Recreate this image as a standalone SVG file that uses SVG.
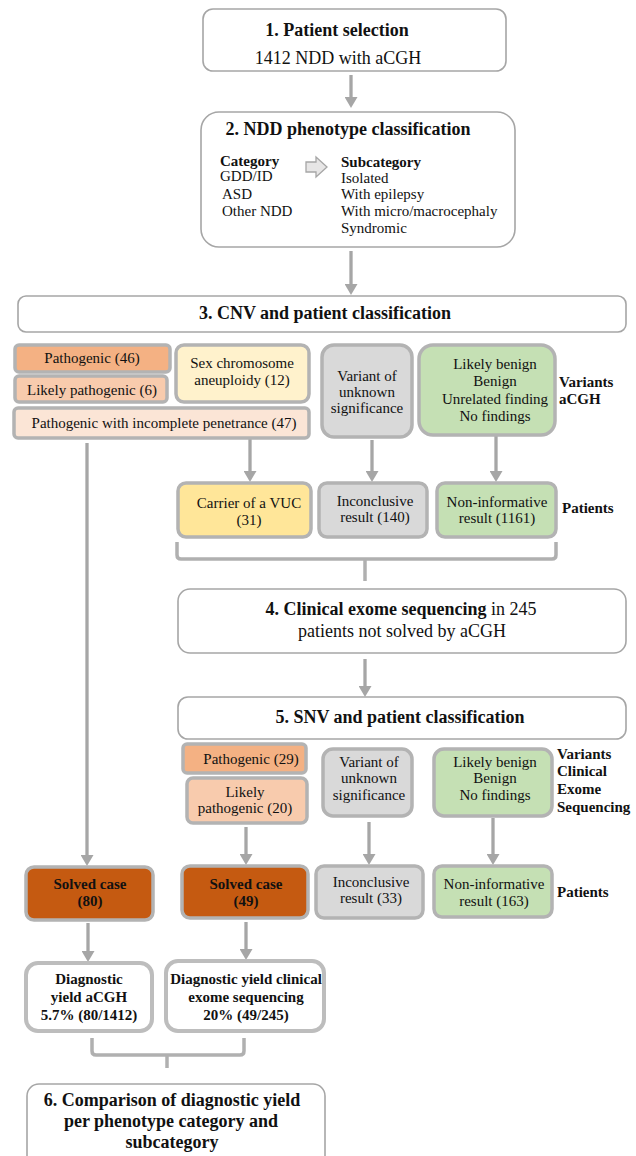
<svg xmlns="http://www.w3.org/2000/svg" width="636" height="1156" viewBox="0 0 636 1156">
<style>
text{font-family:"Liberation Serif","Times New Roman",serif;fill:#111}
.t{font-size:18px;font-weight:bold;text-anchor:middle}
.s{font-size:18px;text-anchor:middle}
.n{font-size:15px;text-anchor:middle}
.nb{font-size:15px;font-weight:bold;text-anchor:middle}
.l{font-size:15px}
.lb{font-size:15px;font-weight:bold}
.hdr{fill:#fff;stroke:#a6a6a6;stroke-width:1.6}
.nd{stroke:#b3b3b3;stroke-width:3.5}
.con{stroke:#a6a6a6;stroke-width:3.3;fill:none}
.br{stroke:#b0b0b0;stroke-width:3.5;fill:none;stroke-linejoin:round}
</style>
<defs>
<marker id="ah" viewBox="0 0 11 13" refX="0" refY="6.5" markerWidth="11" markerHeight="13" markerUnits="userSpaceOnUse" orient="auto">
<path d="M0,0 L11,6.5 L0,13 z" fill="#a6a6a6"/>
</marker>
</defs>

<g id="connectors">
<line class="con" x1="351" y1="75" x2="351" y2="97" marker-end="url(#ah)"/>
<line class="con" x1="351" y1="251" x2="351" y2="284" marker-end="url(#ah)"/>
<line class="con" x1="250" y1="438" x2="250" y2="471" marker-end="url(#ah)"/>
<line class="con" x1="372" y1="440" x2="372" y2="471" marker-end="url(#ah)"/>
<line class="con" x1="496" y1="436" x2="496" y2="471" marker-end="url(#ah)"/>
<line class="con" x1="87" y1="443" x2="87" y2="855" marker-end="url(#ah)"/>
<path class="br" d="M177,542 V555 Q177,559 181,559 H552 Q556,559 556,555 V542"/>
<path class="br" d="M365,559 V581"/>
<line class="con" x1="365" y1="659" x2="365" y2="686" marker-end="url(#ah)"/>
<line class="con" x1="246" y1="827" x2="246" y2="854" marker-end="url(#ah)"/>
<line class="con" x1="369" y1="822" x2="369" y2="854" marker-end="url(#ah)"/>
<line class="con" x1="493" y1="818" x2="493" y2="854" marker-end="url(#ah)"/>
<line class="con" x1="88" y1="923" x2="88" y2="951" marker-end="url(#ah)"/>
<line class="con" x1="246" y1="922" x2="246" y2="949" marker-end="url(#ah)"/>
<path class="br" d="M92,1038 V1051 Q92,1055 96,1055 H240 Q244,1055 244,1051 V1038"/>
<path class="br" d="M167,1055 V1068"/>
</g>

<g id="step1">
<rect class="hdr" x="203" y="9" width="303" height="62" rx="10"/>
<text class="t" x="337" y="36">1. Patient selection</text>
<text class="s" x="338" y="64">1412 NDD with aCGH</text>
</g>

<g id="step2">
<rect class="hdr" x="201" y="112" width="314" height="135" rx="18"/>
<text class="t" x="348" y="135">2. NDD phenotype classification</text>
<text class="lb" x="220" y="166">Category</text>
<text class="l" x="220" y="181">GDD/ID</text>
<text class="l" x="222" y="199">ASD</text>
<text class="l" x="222" y="216">Other NDD</text>
<polygon points="306,162 316,162 316,157 327,167 316,177 316,172 306,172" fill="#e7e6e6" stroke="#a6a6a6" stroke-width="1.3"/>
<text class="lb" x="341" y="167">Subcategory</text>
<text class="l" x="341" y="183">Isolated</text>
<text class="l" x="341" y="199">With epilepsy</text>
<text class="l" x="341" y="216">With micro/macrocephaly</text>
<text class="l" x="341" y="233">Syndromic</text>
</g>

<g id="step3">
<rect class="hdr" x="18" y="296" width="608" height="36" rx="8"/>
<text class="t" x="325" y="319">3. CNV and patient classification</text>
</g>

<g id="cnv-pathogenic">
<rect class="nd" x="15" y="345" width="155" height="27" rx="4" fill="#f4b183"/>
<text class="n" x="92" y="363">Pathogenic (46)</text>
</g>
<g id="cnv-likely-pathogenic">
<rect class="nd" x="15" y="376" width="152" height="26" rx="4" fill="#f8cbad"/>
<text class="n" x="92" y="395">Likely pathogenic (6)</text>
</g>
<g id="cnv-sex">
<rect class="nd" x="176" y="345" width="133" height="57" rx="8" fill="#fff2cc"/>
<text class="n" x="242" y="368">Sex chromosome</text>
<text class="n" x="242" y="385">aneuploidy (12)</text>
</g>
<g id="cnv-incomplete">
<rect class="nd" x="14" y="408" width="295" height="30" rx="4" fill="#fbe5d6"/>
<text class="n" x="164" y="428">Pathogenic with incomplete penetrance (47)</text>
</g>
<g id="cnv-vus">
<rect class="nd" x="322" y="345" width="90" height="92" rx="12" fill="#d9d9d9"/>
<text class="n" x="367" y="381">Variant of</text>
<text class="n" x="367" y="397">unknown</text>
<text class="n" x="367" y="413">significance</text>
</g>
<g id="cnv-benign">
<rect class="nd" x="419" y="345" width="136" height="90" rx="14" fill="#c5e0b4"/>
<text class="n" x="495" y="369">Likely benign</text>
<text class="n" x="495" y="386">Benign</text>
<text class="n" x="495" y="404">Unrelated finding</text>
<text class="n" x="495" y="421">No findings</text>
</g>
<g id="label-variants-acgh">
<text class="lb" x="559" y="387">Variants</text>
<text class="lb" x="559" y="404">aCGH</text>
</g>

<g id="pat-carrier">
<rect class="nd" x="178" y="483" width="133" height="54" rx="8" fill="#ffe699"/>
<text class="n" x="249" y="508">Carrier of a VUC</text>
<text class="n" x="249" y="525">(31)</text>
</g>
<g id="pat-inconclusive1">
<rect class="nd" x="319" y="483" width="108" height="54" rx="8" fill="#d9d9d9"/>
<text class="n" x="375" y="506">Inconclusive</text>
<text class="n" x="375" y="522">result (140)</text>
</g>
<g id="pat-noninf1">
<rect class="nd" x="437" y="483" width="119" height="54" rx="8" fill="#c5e0b4"/>
<text class="n" x="497" y="507">Non-informative</text>
<text class="n" x="497" y="523">result (1161)</text>
</g>
<g id="label-patients1">
<text class="lb" x="562" y="513">Patients</text>
</g>

<g id="step4">
<rect class="hdr" x="178" y="589" width="448" height="64" rx="12"/>
<text class="s" x="401" y="615"><tspan font-weight="bold">4. Clinical exome sequencing</tspan> in 245</text>
<text class="s" x="402" y="637">patients not solved by aCGH</text>
</g>

<g id="step5">
<rect class="hdr" x="178" y="697" width="448" height="42" rx="10"/>
<text class="t" x="400" y="723">5. SNV and patient classification</text>
</g>

<g id="snv-pathogenic">
<rect class="nd" x="183" y="744" width="123" height="29" rx="4" fill="#f4b183"/>
<text class="n" x="251" y="764">Pathogenic (29)</text>
</g>
<g id="snv-likely-pathogenic">
<rect class="nd" x="187" y="778" width="120" height="45" rx="6" fill="#f8cbad"/>
<text class="n" x="245" y="797">Likely</text>
<text class="n" x="245" y="813">pathogenic (20)</text>
</g>
<g id="snv-vus">
<rect class="nd" x="323" y="749" width="89" height="67" rx="10" fill="#d9d9d9"/>
<text class="n" x="369" y="767">Variant of</text>
<text class="n" x="369" y="783">unknown</text>
<text class="n" x="369" y="800">significance</text>
</g>
<g id="snv-benign">
<rect class="nd" x="434" y="749" width="118" height="67" rx="10" fill="#c5e0b4"/>
<text class="n" x="495" y="767">Likely benign</text>
<text class="n" x="495" y="783">Benign</text>
<text class="n" x="495" y="800">No findings</text>
</g>
<g id="label-variants-ces">
<text class="lb" x="557" y="759">Variants</text>
<text class="lb" x="557" y="776">Clinical</text>
<text class="lb" x="557" y="794">Exome</text>
<text class="lb" x="557" y="812">Sequencing</text>
</g>

<g id="solved-acgh">
<rect class="nd" x="26" y="867" width="127" height="53" rx="8" fill="#c55a11"/>
<text class="nb" x="90" y="889">Solved case</text>
<text class="nb" x="90" y="906">(80)</text>
</g>
<g id="solved-ces">
<rect class="nd" x="182" y="866" width="126" height="52" rx="8" fill="#c55a11"/>
<text class="nb" x="246" y="889">Solved case</text>
<text class="nb" x="246" y="906">(49)</text>
</g>
<g id="pat-inconclusive2">
<rect class="nd" x="316" y="866" width="107" height="52" rx="8" fill="#d9d9d9"/>
<text class="n" x="371" y="887">Inconclusive</text>
<text class="n" x="371" y="903">result (33)</text>
</g>
<g id="pat-noninf2">
<rect class="nd" x="434" y="866" width="118" height="51" rx="8" fill="#c5e0b4"/>
<text class="n" x="494" y="889">Non-informative</text>
<text class="n" x="494" y="906">result (163)</text>
</g>
<g id="label-patients2">
<text class="lb" x="557" y="897">Patients</text>
</g>

<g id="yield-acgh">
<rect x="26" y="963" width="126" height="68" rx="12" fill="#fff" stroke="#bdbdbd" stroke-width="4"/>
<text class="nb" x="89" y="984">Diagnostic</text>
<text class="nb" x="89" y="1002">yield aCGH</text>
<text class="nb" x="89" y="1020">5.7% (80/1412)</text>
</g>
<g id="yield-ces">
<rect x="166" y="961" width="158" height="70" rx="12" fill="#fff" stroke="#bdbdbd" stroke-width="4"/>
<text class="nb" x="246" y="984">Diagnostic yield clinical</text>
<text class="nb" x="246" y="1002">exome sequencing</text>
<text class="nb" x="246" y="1020">20% (49/245)</text>
</g>

<g id="step6">
<rect class="hdr" x="27" y="1084" width="298" height="92" rx="12"/>
<text class="t" x="172" y="1106">6. Comparison of diagnostic yield</text>
<text class="t" x="171" y="1127">per phenotype category  and</text>
<text class="t" x="172" y="1148">subcategory</text>
</g>
</svg>
